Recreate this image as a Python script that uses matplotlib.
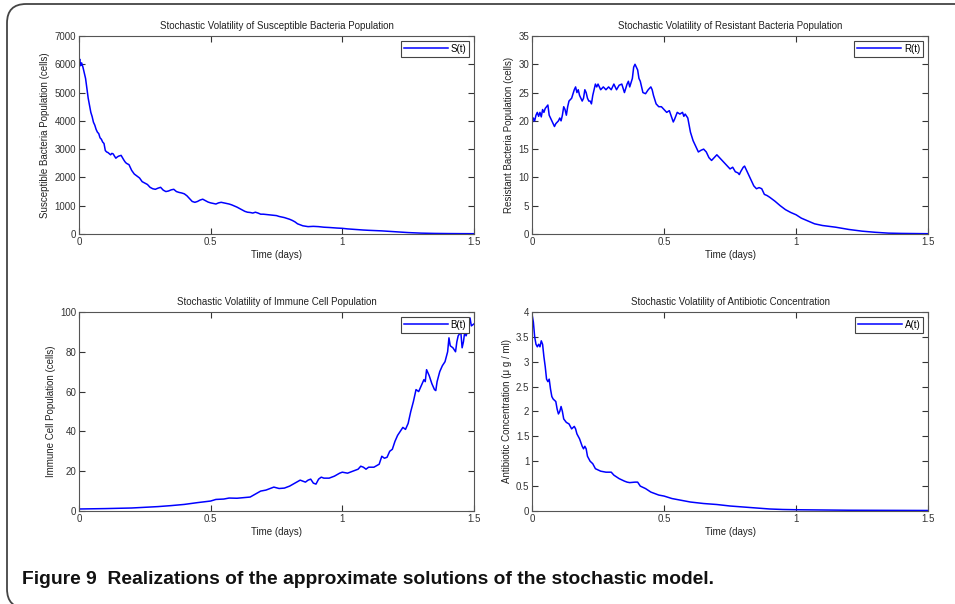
"""
Realizations of the approximate solutions of the stochastic model (Figure 9)
"""

import matplotlib
matplotlib.use('Agg')
import matplotlib.pyplot as plt
from matplotlib.patches import FancyBboxPatch

plt.rcParams['font.family'] = ['Liberation Sans', 'DejaVu Sans']

# Susceptible bacteria S(t)
s_time = [0, 0.003, 0.006, 0.01, 0.015, 0.02, 0.025, 0.03, 0.035, 0.04, 0.045, 0.05, 0.055,
          0.06, 0.065, 0.07, 0.075, 0.08, 0.085, 0.09, 0.095, 0.1, 0.105, 0.11, 0.12, 0.125,
          0.13, 0.135, 0.14, 0.145, 0.15, 0.16, 0.165, 0.17, 0.175, 0.18, 0.19, 0.2, 0.21,
          0.22, 0.23, 0.24, 0.25, 0.26, 0.27, 0.28, 0.29, 0.3, 0.31, 0.32, 0.33, 0.34, 0.35,
          0.36, 0.37, 0.38, 0.39, 0.4, 0.41, 0.42, 0.43, 0.44, 0.45, 0.46, 0.47, 0.48, 0.49,
          0.5, 0.51, 0.52, 0.53, 0.54, 0.55, 0.56, 0.57, 0.58, 0.59, 0.6, 0.61, 0.62, 0.63,
          0.64, 0.65, 0.66, 0.67, 0.68, 0.69, 0.7, 0.72, 0.74, 0.75, 0.76, 0.78, 0.8, 0.81,
          0.82, 0.83, 0.85, 0.87, 0.89, 0.91, 0.93, 0.95, 0.98, 1.0, 1.02, 1.05, 1.08, 1.1,
          1.15, 1.2, 1.25, 1.3, 1.35, 1.4, 1.45, 1.5]
s_vals = [6100, 6180, 5950, 6050, 5900, 5700, 5500, 5150, 4800, 4550, 4300, 4150, 3950,
          3850, 3700, 3600, 3550, 3400, 3350, 3250, 3200, 2950, 2900, 2880, 2800, 2850,
          2830, 2750, 2680, 2720, 2750, 2780, 2700, 2620, 2550, 2500, 2450, 2250, 2120,
          2050, 1980, 1850, 1800, 1750, 1650, 1600, 1580, 1620, 1650, 1550, 1500, 1520, 1560,
          1580, 1500, 1470, 1450, 1420, 1350, 1250, 1150, 1120, 1150, 1200, 1230, 1180, 1130,
          1100, 1080, 1060, 1100, 1120, 1100, 1080, 1060, 1030, 990, 950, 900, 850, 800,
          770, 760, 740, 770, 740, 700, 700, 680, 660, 650, 620, 580, 520, 480,
          430, 360, 290, 260, 270, 260, 240, 230, 210, 200, 180, 160, 140, 130,
          110, 80, 50, 30, 20, 15, 12, 10]

# Resistant bacteria R(t)
r_time = [0, 0.005, 0.01, 0.015, 0.02, 0.025, 0.03, 0.035, 0.04, 0.045, 0.05, 0.055, 0.06,
          0.065, 0.07, 0.08, 0.085, 0.09, 0.1, 0.105, 0.11, 0.115, 0.12, 0.125, 0.13, 0.135,
          0.14, 0.15, 0.16, 0.165, 0.17, 0.175, 0.18, 0.19, 0.195, 0.2, 0.205, 0.21, 0.215,
          0.22, 0.225, 0.23, 0.24, 0.245, 0.25, 0.26, 0.27, 0.28, 0.29, 0.3, 0.31, 0.32, 0.33,
          0.34, 0.35, 0.36, 0.365, 0.37, 0.38, 0.385, 0.39, 0.395, 0.4, 0.405, 0.41, 0.415,
          0.42, 0.43, 0.44, 0.45, 0.455, 0.46, 0.47, 0.48, 0.49, 0.5, 0.51, 0.52, 0.53, 0.535,
          0.54, 0.55, 0.56, 0.57, 0.575, 0.58, 0.59, 0.6, 0.61, 0.62, 0.63, 0.64, 0.65, 0.66,
          0.67, 0.68, 0.69, 0.7, 0.71, 0.72, 0.73, 0.74, 0.75, 0.76, 0.77, 0.78, 0.785, 0.79,
          0.8, 0.805, 0.81, 0.82, 0.83, 0.84, 0.85, 0.86, 0.87, 0.88, 0.89, 0.9, 0.92, 0.94,
          0.96, 0.98, 1.0, 1.02, 1.05, 1.07, 1.1, 1.15, 1.2, 1.25, 1.3, 1.35, 1.4, 1.5]
r_vals = [19.5, 20.5, 20, 21, 21.5, 20.8, 21.5, 20.7, 22, 21.5, 22.2, 22.5, 22.8,
          21, 20.5, 19.5, 19, 19.5, 20, 20.5, 20, 21, 22.5, 22, 21, 22.5,
          23.5, 24, 25.5, 26, 25, 25.5, 24.5, 23.5, 24, 25.5, 25, 24, 23.5,
          23.5, 23, 24.5, 26.5, 26, 26.5, 25.5, 26, 25.5, 26, 25.5, 26.5, 25.5, 26.3,
          26.5, 25, 26.5, 27, 26, 27.5, 29.5, 30, 29.5, 29, 27.5, 27, 26,
          25, 24.8, 25.5, 26, 25.5, 24.5, 23, 22.5, 22.5, 22, 21.5, 21.8, 20.5, 19.8,
          20.3, 21.5, 21.2, 21.5, 20.8, 21.2, 20.5, 18, 16.5, 15.5, 14.5, 14.8, 15, 14.5,
          13.5, 13, 13.5, 14, 13.5, 13, 12.5, 12, 11.5, 11.8, 11, 10.8, 10.5, 11,
          11.8, 12, 11.5, 10.5, 9.5, 8.5, 8, 8.2, 8, 7, 6.8, 6.5, 5.8, 5,
          4.3, 3.8, 3.4, 2.8, 2.2, 1.8, 1.5, 1.2, 0.8, 0.5, 0.3, 0.15, 0.1, 0.05]

# Immune cells B(t)
b_time = [0, 0.1, 0.2, 0.3, 0.35, 0.4, 0.45, 0.5, 0.52, 0.55, 0.57, 0.6, 0.65, 0.67, 0.69,
          0.71, 0.73, 0.74, 0.76, 0.78, 0.8, 0.82, 0.84, 0.85, 0.86, 0.87, 0.88, 0.89, 0.9,
          0.91, 0.92, 0.93, 0.95, 0.97, 0.99, 1.0, 1.02, 1.04, 1.06, 1.07, 1.08, 1.09, 1.1,
          1.12, 1.14, 1.15, 1.16, 1.17, 1.18, 1.19, 1.2, 1.21, 1.22, 1.23, 1.24, 1.25, 1.26,
          1.27, 1.28, 1.29, 1.3, 1.31, 1.315, 1.32, 1.33, 1.335, 1.34, 1.35, 1.355, 1.36,
          1.37, 1.38, 1.39, 1.4, 1.405, 1.41, 1.42, 1.43, 1.435, 1.44, 1.45, 1.455, 1.46,
          1.465, 1.47, 1.48, 1.485, 1.49, 1.5]
b_vals = [1, 1.2, 1.5, 2.2, 2.7, 3.3, 4.2, 5, 5.8, 6, 6.5, 6.4, 7, 8.5, 10,
          10.5, 11.5, 12, 11.3, 11.5, 12.5, 14, 15.5, 15, 14.5, 15.5, 16, 14, 13.5,
          16, 17, 16.5, 16.5, 17.5, 19, 19.5, 19, 20, 21, 22.5, 22, 21, 22,
          22, 23.5, 27.5, 26.5, 27, 30, 31, 35, 38, 40, 42, 41, 44, 50,
          55, 61, 60, 63, 66, 65, 71, 68, 66, 64, 61, 60.5, 65,
          70, 73, 75, 80, 87, 83, 82, 80, 85, 88, 90, 82, 85,
          90, 88, 92, 97, 93, 94]

# Antibiotic concentration A(t)
a_time = [0, 0.005, 0.01, 0.015, 0.02, 0.025, 0.03, 0.035, 0.04, 0.045, 0.05, 0.055, 0.06,
          0.065, 0.07, 0.075, 0.08, 0.09, 0.095, 0.1, 0.105, 0.11, 0.115, 0.12, 0.13, 0.14,
          0.15, 0.16, 0.165, 0.17, 0.18, 0.19, 0.195, 0.2, 0.205, 0.21, 0.22, 0.23, 0.24,
          0.26, 0.28, 0.3, 0.31, 0.33, 0.35, 0.36, 0.37, 0.39, 0.4, 0.41, 0.43, 0.45, 0.48,
          0.5, 0.53, 0.56, 0.6, 0.65, 0.7, 0.75, 0.8, 0.85, 0.9, 0.95, 1.0, 1.1, 1.2, 1.5]
a_vals = [3.95, 3.8, 3.5, 3.35, 3.3, 3.35, 3.3, 3.42, 3.35, 3.1, 2.9, 2.65, 2.6,
          2.65, 2.45, 2.3, 2.25, 2.2, 2.05, 1.95, 2.0, 2.1, 2.0, 1.85, 1.78, 1.75,
          1.65, 1.7, 1.65, 1.55, 1.45, 1.3, 1.25, 1.3, 1.25, 1.1, 1.0, 0.95, 0.85,
          0.8, 0.78, 0.78, 0.72, 0.65, 0.6, 0.58, 0.57, 0.58, 0.58, 0.5, 0.45, 0.38, 0.32,
          0.3, 0.25, 0.22, 0.18, 0.15, 0.13, 0.1, 0.08, 0.06, 0.04, 0.03, 0.025, 0.02, 0.015, 0.01]

fig = plt.figure(figsize=(9.55, 6.04), dpi=100)

# panel positions in figure fractions: left, bottom, width, height
panels = [
    ([0.0827, 0.6126, 0.4136, 0.3278], s_time, s_vals, 'S(t)',
     'Stochastic Volatility of Susceptible Bacteria Population',
     'Susceptible Bacteria Population (cells)', 7000, range(0, 7001, 1000)),
    ([0.5571, 0.6126, 0.4147, 0.3278], r_time, r_vals, 'R(t)',
     'Stochastic Volatility of Resistant Bacteria Population',
     'Resistant Bacteria Population (cells)', 35, range(0, 36, 5)),
    ([0.0827, 0.1540, 0.4136, 0.3295], b_time, b_vals, 'B(t)',
     'Stochastic Volatility of Immune Cell Population',
     'Immune Cell Population (cells)', 100, range(0, 101, 20)),
    ([0.5571, 0.1540, 0.4147, 0.3295], a_time, a_vals, 'A(t)',
     'Stochastic Volatility of Antibiotic Concentration',
     'Antibiotic Concentration (\u03bc g / ml)', 4, [0, 0.5, 1, 1.5, 2, 2.5, 3, 3.5, 4]),
]

for pos, t, y, lab, title, ylabel, ymax, yticks in panels:
    ax = fig.add_axes(pos)
    ax.plot(t, y, color='#0000ff', linewidth=1.1, label=lab)
    ax.set_xlim(0, 1.5)
    ax.set_ylim(0, ymax)
    ax.set_xticks([0, 0.5, 1, 1.5])
    ax.set_xticklabels(['0', '0.5', '1', '1.5'])
    ax.set_yticks(list(yticks))
    ax.set_yticklabels(['%g' % v for v in yticks])
    ax.tick_params(direction='in', top=True, right=True, length=4, width=0.8,
                   labelsize=7, colors='#333333', pad=2)
    for sp in ax.spines.values():
        sp.set_color('#555555')
        sp.set_linewidth(0.8)
    ax.set_title(title, fontsize=7, pad=5, color='#222222')
    ax.set_xlabel('Time (days)', fontsize=7, labelpad=2, color='#222222')
    ax.set_ylabel(ylabel, fontsize=7, labelpad=3, color='#222222')
    leg = ax.legend(loc='upper right', fontsize=7, handlelength=4.5, borderaxespad=0.5,
                    fancybox=False, framealpha=1, borderpad=0.3, handletextpad=0.3)
    leg.get_frame().set_edgecolor('#444444')
    leg.get_frame().set_linewidth(0.8)

# rounded outer frame (only the left and top edges fall inside the image)
frame = FancyBboxPatch((7 / 955, -4 / 604), 2.0, 604 / 604,
                       boxstyle='round,pad=0,rounding_size=0.02',
                       transform=fig.transFigure, facecolor='none',
                       edgecolor='#444444', linewidth=1.3, mutation_aspect=955 / 604)
fig.patches.append(frame)

fig.text(22 / 955, 1 - 580 / 604, 'Figure 9  Realizations of the approximate solutions of the stochastic model.',
         fontsize=13.9, fontweight='bold', family=['Liberation Sans'],
         va='center', ha='left', color='#111111')

fig.savefig('out.png', dpi=100)
